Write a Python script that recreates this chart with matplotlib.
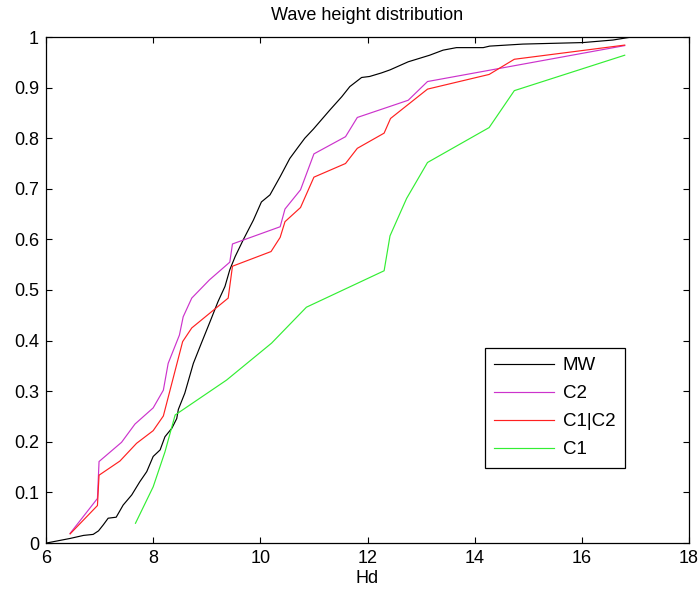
import matplotlib
matplotlib.use("Agg")
import matplotlib.pyplot as plt

plt.rcParams["font.family"] = ["Liberation Sans", "DejaVu Sans"]

# empirical distribution of measured wave heights (MW)
mw_x = [6.01, 6.45, 6.70, 6.88, 6.98, 7.07, 7.16, 7.31, 7.44, 7.60, 7.75, 7.88,
        8.00, 8.13, 8.22, 8.35, 8.44, 8.47, 8.59, 8.75, 8.90, 9.06, 9.21, 9.34,
        9.43, 9.53, 9.68, 9.87, 10.02, 10.18, 10.37, 10.55, 10.71, 10.83, 10.99,
        11.30, 11.52, 11.67, 11.89, 12.04, 12.26, 12.42, 12.76, 13.16, 13.41,
        13.66, 14.16, 14.28, 14.90, 16.02, 16.58, 16.93, 17.05]
mw_y = [0.000, 0.009, 0.015, 0.017, 0.024, 0.036, 0.049, 0.051, 0.075, 0.095,
        0.121, 0.141, 0.171, 0.184, 0.210, 0.227, 0.246, 0.264, 0.296, 0.355,
        0.395, 0.437, 0.477, 0.507, 0.540, 0.566, 0.599, 0.638, 0.674, 0.688,
        0.724, 0.760, 0.783, 0.800, 0.818, 0.856, 0.882, 0.902, 0.920, 0.922,
        0.929, 0.935, 0.951, 0.964, 0.974, 0.979, 0.979, 0.982, 0.986, 0.989,
        0.994, 1.000, 1.000]

c2_x = [6.45, 6.96, 6.99, 7.41, 7.66, 8.00, 8.19, 8.28, 8.49, 8.56, 8.72, 9.05,
        9.43, 9.48, 10.37, 10.46, 10.75, 11.00, 11.59, 11.81, 12.76, 13.12, 16.80]
c2_y = [0.019, 0.088, 0.161, 0.199, 0.235, 0.267, 0.302, 0.355, 0.411, 0.447,
        0.484, 0.520, 0.555, 0.591, 0.625, 0.660, 0.698, 0.769, 0.803, 0.841,
        0.875, 0.912, 0.983]

c12_x = [6.45, 6.96, 6.99, 7.38, 7.69, 8.00, 8.19, 8.55, 8.72, 9.40, 9.48, 10.20,
         10.37, 10.46, 10.75, 11.00, 11.59, 11.81, 12.31, 12.43, 13.12, 14.27,
         14.74, 16.80]
c12_y = [0.018, 0.074, 0.134, 0.162, 0.197, 0.222, 0.251, 0.398, 0.425, 0.484,
         0.547, 0.576, 0.604, 0.635, 0.663, 0.723, 0.750, 0.780, 0.810, 0.839,
         0.897, 0.926, 0.956, 0.984]

c1_x = [7.67, 8.00, 8.22, 8.41, 9.37, 10.21, 10.86, 12.31, 12.42, 12.73, 13.12,
        14.27, 14.74, 16.80]
c1_y = [0.039, 0.111, 0.180, 0.253, 0.322, 0.395, 0.466, 0.538, 0.607, 0.681,
        0.752, 0.821, 0.894, 0.964]

x_ticks = [6, 8, 10, 12, 14, 16, 18]
y_ticks = [0, 0.1, 0.2, 0.3, 0.4, 0.5, 0.6, 0.7, 0.8, 0.9, 1]
y_labels = ["0", "0.1", "0.2", "0.3", "0.4", "0.5", "0.6", "0.7", "0.8", "0.9", "1"]

fig = plt.figure(figsize=(7.0, 5.94), dpi=100)
ax = fig.add_axes([46 / 700, 51 / 594, 643 / 700, 506 / 594])

lw = 0.85
ax.plot(mw_x, mw_y, color="black", lw=lw, label="MW")
ax.plot(c2_x, c2_y, color="#cc33cc", lw=lw, label="C2")
ax.plot(c12_x, c12_y, color="#ff2020", lw=lw, label="C1|C2")
ax.plot(c1_x, c1_y, color="#33ee33", lw=lw, label="C1")

ax.set_xlim(6, 18)
ax.set_ylim(0, 1)
ax.set_xticks(x_ticks)
ax.set_yticks(y_ticks)
ax.set_yticklabels(y_labels)
ax.tick_params(direction="in", length=4, width=0.8, top=True, right=True,
               labelsize=13, pad=5)
for s in ax.spines.values():
    s.set_linewidth(0.9)

ax.set_title("Wave height distribution", fontsize=13, pad=12)
ax.set_xlabel("Hd", fontsize=13, labelpad=2)

leg = ax.legend(loc="upper left", bbox_to_anchor=(485 / 700, 1 - 348 / 594),
                bbox_transform=fig.transFigure, fontsize=13.5, fancybox=False,
                edgecolor="black", framealpha=1, borderaxespad=0,
                handlelength=3.2, handletextpad=0.45, labelspacing=0.58,
                borderpad=0.5)
leg.get_frame().set_linewidth(0.9)

fig.savefig("out.png", dpi=100)
